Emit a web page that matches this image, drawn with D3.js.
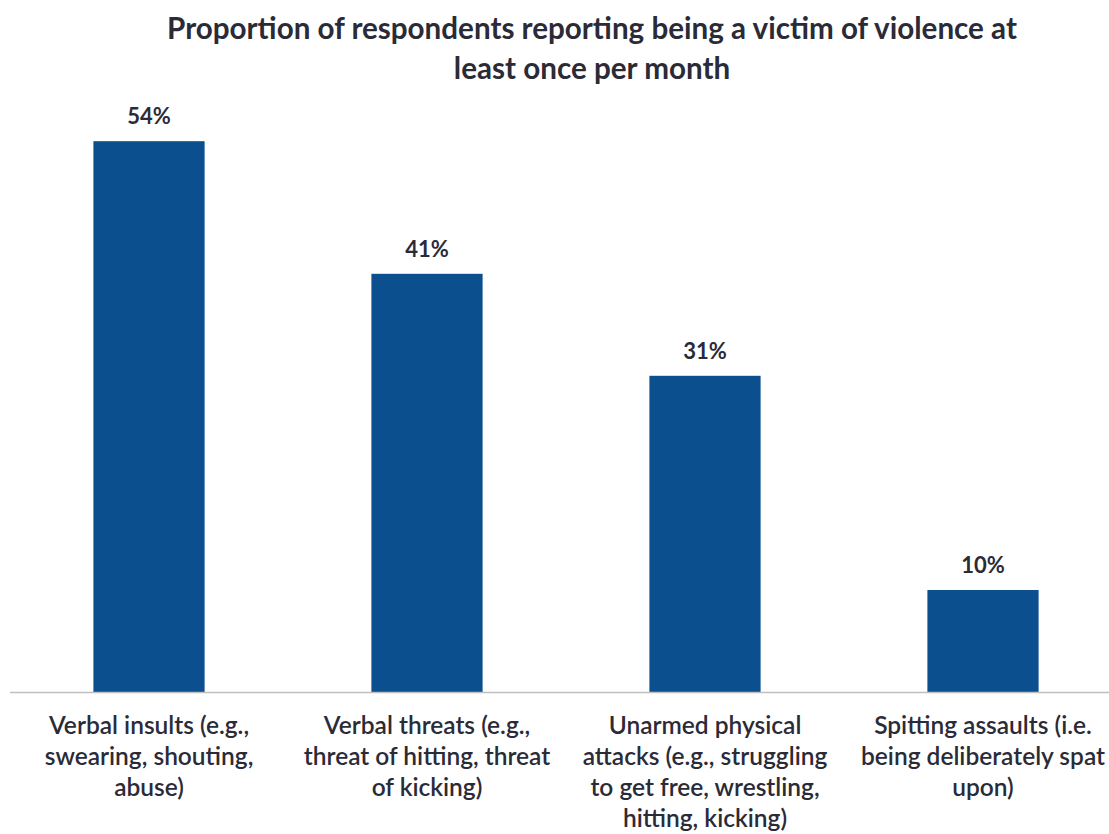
<!DOCTYPE html>
<html><head><meta charset="utf-8">
<script src="https://cdn.jsdelivr.net/npm/d3@7"></script>
<style>body{margin:0;background:#fff;} svg{display:block;}</style>
</head><body>
<script>
const titleLines = ["Proportion of respondents reporting being a victim of violence at", "least once per month"];
const categories = ["Verbal insults", "Verbal threats", "Unarmed physical attacks", "Spitting assaults"];
const categoryLabelLines = [
  ["Verbal insults (e.g.,", "swearing, shouting,", "abuse)"],
  ["Verbal threats (e.g.,", "threat of hitting, threat", "of kicking)"],
  ["Unarmed physical", "attacks (e.g., struggling", "to get free, wrestling,", "hitting, kicking)"],
  ["Spitting assaults (i.e.", "being deliberately spat", "upon)"]
];
const values = [54, 41, 31, 10];

const W = 1109, H = 834;
const svg = d3.select("body").append("svg").attr("width", W).attr("height", H);
const font = "Lato, 'Open Sans', sans-serif";
const textColor = "#2b2b38";

const x = d3.scaleBand().domain(categories).range([10, 1122]).paddingInner(0.6).paddingOuter(0.3);
const y = d3.scaleLinear().domain([0, 60]).range([692, 80]);

// title
svg.append("g").selectAll("text").data(titleLines).join("text")
  .attr("x", 592).attr("y", (d, i) => 39 + i * 40)
  .attr("text-anchor", "middle").attr("font-family", font).attr("font-weight", 700)
  .attr("font-size", 29.6).attr("fill", textColor).text(d => d);

// bars
svg.append("g").selectAll("rect").data(values).join("rect")
  .attr("x", (d, i) => x(categories[i])).attr("width", x.bandwidth())
  .attr("y", d => y(d)).attr("height", d => y(0) - y(d))
  .attr("fill", "#0B4F8F");

// axis line
svg.append("line").attr("x1", 10).attr("x2", W).attr("y1", y(0) + 0.5).attr("y2", y(0) + 0.5)
  .attr("stroke", "#bfbfbf").attr("stroke-width", 1.5);

// value labels
svg.append("g").selectAll("text").data(values).join("text")
  .attr("x", (d, i) => x(categories[i]) + x.bandwidth() / 2)
  .attr("y", d => y(d) - 17)
  .attr("text-anchor", "middle").attr("font-family", font).attr("font-weight", 700)
  .attr("font-size", 22).attr("fill", textColor).text(d => d + "%");

// category labels
const cg = svg.append("g").selectAll("g").data(categoryLabelLines).join("g")
  .attr("transform", (d, i) => `translate(${x(categories[i]) + x.bandwidth() / 2},0)`);
cg.selectAll("text").data(d => d).join("text")
  .attr("x", 0).attr("y", (d, i) => 734 + i * 31)
  .attr("text-anchor", "middle").attr("font-family", font).attr("font-weight", 600)
  .attr("font-size", 24.5).attr("fill", textColor).text(d => d);
</script>
</body></html>
